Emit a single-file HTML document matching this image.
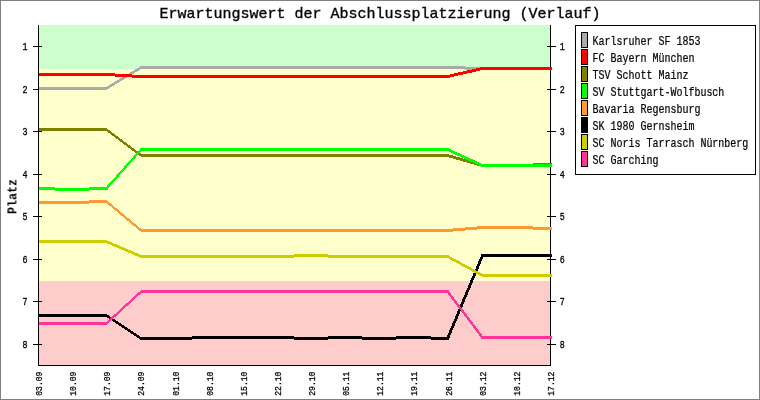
<!DOCTYPE html>
<html lang="de"><head><meta charset="utf-8"><title>Erwartungswert der Abschlussplatzierung (Verlauf)</title>
<style>html,body{margin:0;padding:0;background:#fff}svg{display:block}text{font-family:"Liberation Mono",monospace;fill:#000}.t{font-size:15px;stroke:#000;stroke-width:0.35px}.l{font-size:10px;stroke:#000;stroke-width:0.2px}.a,.b{font-size:8.33px;stroke:#000;stroke-width:0.25px}.b{font-size:8.1px}.p{font-size:11.67px;font-weight:bold}</style></head><body>
<svg width="760" height="400" viewBox="0 0 760 400">
<rect x="0" y="0" width="760" height="400" fill="#fff"/>
<rect x="0.5" y="0.5" width="759" height="399" fill="none" stroke="#808080" shape-rendering="crispEdges"/>
<g shape-rendering="crispEdges">
<rect x="39" y="25" width="511" height="44" fill="#ccffcc"/>
<rect x="39" y="69" width="511" height="212" fill="#ffffcc"/>
<rect x="39" y="281" width="511" height="84" fill="#ffcccc"/>
</g>
<g stroke="#000" stroke-width="1" shape-rendering="crispEdges">
<line x1="38.5" y1="25" x2="38.5" y2="366"/>
<line x1="550.5" y1="25" x2="550.5" y2="366"/>
<line x1="38" y1="365.5" x2="551" y2="365.5"/>
<line x1="33" y1="46.5" x2="42" y2="46.5"/>
<line x1="547" y1="46.5" x2="556" y2="46.5"/>
<line x1="33" y1="89.5" x2="42" y2="89.5"/>
<line x1="547" y1="89.5" x2="556" y2="89.5"/>
<line x1="33" y1="131.5" x2="42" y2="131.5"/>
<line x1="547" y1="131.5" x2="556" y2="131.5"/>
<line x1="33" y1="174.5" x2="42" y2="174.5"/>
<line x1="547" y1="174.5" x2="556" y2="174.5"/>
<line x1="33" y1="216.5" x2="42" y2="216.5"/>
<line x1="547" y1="216.5" x2="556" y2="216.5"/>
<line x1="33" y1="259.5" x2="42" y2="259.5"/>
<line x1="547" y1="259.5" x2="556" y2="259.5"/>
<line x1="33" y1="301.5" x2="42" y2="301.5"/>
<line x1="547" y1="301.5" x2="556" y2="301.5"/>
<line x1="33" y1="344.5" x2="42" y2="344.5"/>
<line x1="547" y1="344.5" x2="556" y2="344.5"/>
</g>
<clipPath id="cp"><rect x="39" y="20" width="513" height="350"/></clipPath>
<g clip-path="url(#cp)" stroke="none" shape-rendering="crispEdges">
<path d="M38.0,87.0 72.1,87.0 72.1,90.0 38.0,90.0ZM72.1,87.0 106.3,87.0 106.3,90.0 72.1,90.0ZM106.3,87.0 141.2,66.0 141.2,69.0 106.3,90.0ZM141.2,66.0 174.5,66.0 174.5,69.0 141.2,69.0ZM174.5,66.0 208.7,66.0 208.7,69.0 174.5,69.0ZM208.7,66.0 242.8,66.0 242.8,69.0 208.7,69.0ZM242.8,66.0 276.9,66.0 276.9,69.0 242.8,69.0ZM276.9,66.0 311.1,66.0 311.1,69.0 276.9,69.0ZM311.1,66.0 345.2,66.0 345.2,69.0 311.1,69.0ZM345.2,66.0 379.3,66.0 379.3,69.0 345.2,69.0ZM379.3,66.0 413.5,66.0 413.5,69.0 379.3,69.0ZM413.5,66.0 447.6,66.0 447.6,69.0 413.5,69.0ZM447.6,66.0 482.5,67.0 482.5,70.0 447.6,69.0ZM482.5,67.0 515.9,67.0 515.9,70.0 482.5,70.0ZM515.9,67.0 550.0,67.0 550.0,70.0 515.9,70.0ZM550.0,67.0 552.0,67.0 552.0,70.0 550.0,70.0Z" fill="#aaaaaa"/>
<path d="M38.0,73.0 72.1,73.0 72.1,76.0 38.0,76.0ZM72.1,73.0 106.3,73.0 106.3,76.0 72.1,76.0ZM106.3,73.0 141.2,75.0 141.2,78.0 106.3,76.0ZM141.2,75.0 174.5,75.0 174.5,78.0 141.2,78.0ZM174.5,75.0 208.7,75.0 208.7,78.0 174.5,78.0ZM208.7,75.0 242.8,75.0 242.8,78.0 208.7,78.0ZM242.8,75.0 276.9,75.0 276.9,78.0 242.8,78.0ZM276.9,75.0 311.1,75.0 311.1,78.0 276.9,78.0ZM311.1,75.0 345.2,75.0 345.2,78.0 311.1,78.0ZM345.2,75.0 379.3,75.0 379.3,78.0 345.2,78.0ZM379.3,75.0 413.5,75.0 413.5,78.0 379.3,78.0ZM413.5,75.0 447.6,75.0 447.6,78.0 413.5,78.0ZM447.6,75.0 482.5,67.0 482.5,70.0 447.6,78.0ZM482.5,67.0 515.9,67.0 515.9,70.0 482.5,70.0ZM515.9,67.0 550.0,67.0 550.0,70.0 515.9,70.0ZM550.0,67.0 552.0,67.0 552.0,70.0 550.0,70.0Z" fill="#ff0000"/>
<path d="M38.0,128.0 72.1,128.0 72.1,131.0 38.0,131.0ZM72.1,128.0 106.3,128.0 106.3,131.0 72.1,131.0ZM106.3,128.0 141.2,154.0 141.2,157.0 106.3,131.0ZM141.2,154.0 174.5,154.0 174.5,157.0 141.2,157.0ZM174.5,154.0 208.7,154.0 208.7,157.0 174.5,157.0ZM208.7,154.0 242.8,154.0 242.8,157.0 208.7,157.0ZM242.8,154.0 276.9,154.0 276.9,157.0 242.8,157.0ZM276.9,154.0 311.1,154.0 311.1,157.0 276.9,157.0ZM311.1,154.0 345.2,154.0 345.2,157.0 311.1,157.0ZM345.2,154.0 379.3,154.0 379.3,157.0 345.2,157.0ZM379.3,154.0 413.5,154.0 413.5,157.0 379.3,157.0ZM413.5,154.0 447.6,154.0 447.6,157.0 413.5,157.0ZM447.6,154.0 482.5,164.0 482.5,167.0 447.6,157.0ZM482.5,164.0 515.9,164.0 515.9,167.0 482.5,167.0ZM515.9,164.0 550.0,163.0 550.0,166.0 515.9,167.0ZM550.0,163.0 552.0,163.0 552.0,166.0 550.0,166.0Z" fill="#808000"/>
<path d="M38.0,187.0 72.1,188.0 72.1,191.0 38.0,190.0ZM72.1,188.0 106.3,187.0 106.3,190.0 72.1,191.0ZM104.8,188.5 139.7,149.5 142.7,149.5 107.8,188.5ZM141.2,148.0 174.5,148.0 174.5,151.0 141.2,151.0ZM174.5,148.0 208.7,148.0 208.7,151.0 174.5,151.0ZM208.7,148.0 242.8,148.0 242.8,151.0 208.7,151.0ZM242.8,148.0 276.9,148.0 276.9,151.0 242.8,151.0ZM276.9,148.0 311.1,148.0 311.1,151.0 276.9,151.0ZM311.1,148.0 345.2,148.0 345.2,151.0 311.1,151.0ZM345.2,148.0 379.3,148.0 379.3,151.0 345.2,151.0ZM379.3,148.0 413.5,148.0 413.5,151.0 379.3,151.0ZM413.5,148.0 447.6,148.0 447.6,151.0 413.5,151.0ZM447.6,148.0 482.5,164.0 482.5,167.0 447.6,151.0ZM482.5,164.0 515.9,164.0 515.9,167.0 482.5,167.0ZM515.9,164.0 550.0,164.0 550.0,167.0 515.9,167.0ZM550.0,164.0 552.0,164.0 552.0,167.0 550.0,167.0ZM104.8,187.0h3v3h-3ZM139.7,148.0h3v3h-3Z" fill="#00ff00"/>
<path d="M38.0,201.0 72.1,201.0 72.1,204.0 38.0,204.0ZM72.1,201.0 106.3,200.0 106.3,203.0 72.1,204.0ZM106.3,200.0 141.2,229.0 141.2,232.0 106.3,203.0ZM141.2,229.0 174.5,229.0 174.5,232.0 141.2,232.0ZM174.5,229.0 208.7,229.0 208.7,232.0 174.5,232.0ZM208.7,229.0 242.8,229.0 242.8,232.0 208.7,232.0ZM242.8,229.0 276.9,229.0 276.9,232.0 242.8,232.0ZM276.9,229.0 311.1,229.0 311.1,232.0 276.9,232.0ZM311.1,229.0 345.2,229.0 345.2,232.0 311.1,232.0ZM345.2,229.0 379.3,229.0 379.3,232.0 345.2,232.0ZM379.3,229.0 413.5,229.0 413.5,232.0 379.3,232.0ZM413.5,229.0 447.6,229.0 447.6,232.0 413.5,232.0ZM447.6,229.0 482.5,226.0 482.5,229.0 447.6,232.0ZM482.5,226.0 515.9,226.0 515.9,229.0 482.5,229.0ZM515.9,226.0 550.0,227.0 550.0,230.0 515.9,229.0ZM550.0,227.0 552.0,227.0 552.0,230.0 550.0,230.0Z" fill="#ff9933"/>
<path d="M38.0,314.0 72.1,314.0 72.1,317.0 38.0,317.0ZM72.1,314.0 106.3,314.0 106.3,317.0 72.1,317.0ZM106.3,314.0 141.2,337.0 141.2,340.0 106.3,317.0ZM141.2,337.0 174.5,337.0 174.5,340.0 141.2,340.0ZM174.5,337.0 208.7,336.0 208.7,339.0 174.5,340.0ZM208.7,336.0 242.8,336.0 242.8,339.0 208.7,339.0ZM242.8,336.0 276.9,336.0 276.9,339.0 242.8,339.0ZM276.9,336.0 311.1,337.0 311.1,340.0 276.9,339.0ZM311.1,337.0 345.2,336.0 345.2,339.0 311.1,340.0ZM345.2,336.0 379.3,337.0 379.3,340.0 345.2,339.0ZM379.3,337.0 413.5,336.0 413.5,339.0 379.3,340.0ZM413.5,336.0 447.6,337.0 447.6,340.0 413.5,339.0ZM446.1,338.5 481.0,255.5 484.0,255.5 449.1,338.5ZM482.5,254.0 515.9,254.0 515.9,257.0 482.5,257.0ZM515.9,254.0 550.0,254.0 550.0,257.0 515.9,257.0ZM550.0,254.0 552.0,254.0 552.0,257.0 550.0,257.0ZM446.1,337.0h3v3h-3ZM481.0,254.0h3v3h-3Z" fill="#000000"/>
<path d="M38.0,240.0 72.1,240.0 72.1,243.0 38.0,243.0ZM72.1,240.0 106.3,240.0 106.3,243.0 72.1,243.0ZM106.3,240.0 141.2,255.0 141.2,258.0 106.3,243.0ZM141.2,255.0 174.5,255.0 174.5,258.0 141.2,258.0ZM174.5,255.0 208.7,255.0 208.7,258.0 174.5,258.0ZM208.7,255.0 242.8,255.0 242.8,258.0 208.7,258.0ZM242.8,255.0 276.9,255.0 276.9,258.0 242.8,258.0ZM276.9,255.0 311.1,254.0 311.1,257.0 276.9,258.0ZM311.1,254.0 345.2,255.0 345.2,258.0 311.1,257.0ZM345.2,255.0 379.3,255.0 379.3,258.0 345.2,258.0ZM379.3,255.0 413.5,255.0 413.5,258.0 379.3,258.0ZM413.5,255.0 447.6,255.0 447.6,258.0 413.5,258.0ZM447.6,255.0 482.5,274.0 482.5,277.0 447.6,258.0ZM482.5,274.0 515.9,274.0 515.9,277.0 482.5,277.0ZM515.9,274.0 550.0,274.0 550.0,277.0 515.9,277.0ZM550.0,274.0 552.0,274.0 552.0,277.0 550.0,277.0Z" fill="#cccc00"/>
<path d="M38.0,322.0 72.1,322.0 72.1,325.0 38.0,325.0ZM72.1,322.0 106.3,322.0 106.3,325.0 72.1,325.0ZM106.3,322.0 141.2,290.0 141.2,293.0 106.3,325.0ZM141.2,290.0 174.5,290.0 174.5,293.0 141.2,293.0ZM174.5,290.0 208.7,290.0 208.7,293.0 174.5,293.0ZM208.7,290.0 242.8,290.0 242.8,293.0 208.7,293.0ZM242.8,290.0 276.9,290.0 276.9,293.0 242.8,293.0ZM276.9,290.0 311.1,290.0 311.1,293.0 276.9,293.0ZM311.1,290.0 345.2,290.0 345.2,293.0 311.1,293.0ZM345.2,290.0 379.3,290.0 379.3,293.0 345.2,293.0ZM379.3,290.0 413.5,290.0 413.5,293.0 379.3,293.0ZM413.5,290.0 447.6,290.0 447.6,293.0 413.5,293.0ZM449.1,291.5 484.0,337.5 481.0,337.5 446.1,291.5ZM482.5,336.0 515.9,336.0 515.9,339.0 482.5,339.0ZM515.9,336.0 550.0,336.0 550.0,339.0 515.9,339.0ZM550.0,336.0 552.0,336.0 552.0,339.0 550.0,339.0ZM446.1,290.0h3v3h-3ZM481.0,336.0h3v3h-3Z" fill="#ff3399"/>
</g>
<rect x="575.5" y="25.5" width="180" height="149" fill="#fff" stroke="#000" shape-rendering="crispEdges"/>
<rect x="581.5" y="32.5" width="6" height="15" fill="#aaaaaa" stroke="#000" shape-rendering="crispEdges"/>
<rect x="581.5" y="49.5" width="6" height="15" fill="#ff0000" stroke="#000" shape-rendering="crispEdges"/>
<rect x="581.5" y="66.5" width="6" height="15" fill="#808000" stroke="#000" shape-rendering="crispEdges"/>
<rect x="581.5" y="83.5" width="6" height="15" fill="#00ff00" stroke="#000" shape-rendering="crispEdges"/>
<rect x="581.5" y="100.5" width="6" height="15" fill="#ff9933" stroke="#000" shape-rendering="crispEdges"/>
<rect x="581.5" y="117.5" width="6" height="15" fill="#000000" stroke="#000" shape-rendering="crispEdges"/>
<rect x="581.5" y="134.5" width="6" height="15" fill="#cccc00" stroke="#000" shape-rendering="crispEdges"/>
<rect x="581.5" y="151.5" width="6" height="15" fill="#ff3399" stroke="#000" shape-rendering="crispEdges"/>
<g opacity="0.99">
<text class="a" transform="translate(22.5,49.6) scale(1,1.27)">1</text>
<text class="a" transform="translate(559.8,49.6) scale(1,1.27)">1</text>
<text class="a" transform="translate(22.5,92.6) scale(1,1.27)">2</text>
<text class="a" transform="translate(559.8,92.6) scale(1,1.27)">2</text>
<text class="a" transform="translate(22.5,134.6) scale(1,1.27)">3</text>
<text class="a" transform="translate(559.8,134.6) scale(1,1.27)">3</text>
<text class="a" transform="translate(22.5,177.6) scale(1,1.27)">4</text>
<text class="a" transform="translate(559.8,177.6) scale(1,1.27)">4</text>
<text class="a" transform="translate(22.5,219.6) scale(1,1.27)">5</text>
<text class="a" transform="translate(559.8,219.6) scale(1,1.27)">5</text>
<text class="a" transform="translate(22.5,262.6) scale(1,1.27)">6</text>
<text class="a" transform="translate(559.8,262.6) scale(1,1.27)">6</text>
<text class="a" transform="translate(22.5,304.6) scale(1,1.27)">7</text>
<text class="a" transform="translate(559.8,304.6) scale(1,1.27)">7</text>
<text class="a" transform="translate(22.5,347.6) scale(1,1.27)">8</text>
<text class="a" transform="translate(559.8,347.6) scale(1,1.27)">8</text>
<text class="b" transform="translate(41.8,395.8) rotate(-90) scale(1,1.2)">03.09</text>
<text class="b" transform="translate(75.8,395.8) rotate(-90) scale(1,1.2)">10.09</text>
<text class="b" transform="translate(109.8,395.8) rotate(-90) scale(1,1.2)">17.09</text>
<text class="b" transform="translate(143.8,395.8) rotate(-90) scale(1,1.2)">24.09</text>
<text class="b" transform="translate(178.8,395.8) rotate(-90) scale(1,1.2)">01.10</text>
<text class="b" transform="translate(212.8,395.8) rotate(-90) scale(1,1.2)">08.10</text>
<text class="b" transform="translate(246.8,395.8) rotate(-90) scale(1,1.2)">15.10</text>
<text class="b" transform="translate(280.8,395.8) rotate(-90) scale(1,1.2)">22.10</text>
<text class="b" transform="translate(314.8,395.8) rotate(-90) scale(1,1.2)">29.10</text>
<text class="b" transform="translate(348.8,395.8) rotate(-90) scale(1,1.2)">05.11</text>
<text class="b" transform="translate(382.8,395.8) rotate(-90) scale(1,1.2)">12.11</text>
<text class="b" transform="translate(416.8,395.8) rotate(-90) scale(1,1.2)">19.11</text>
<text class="b" transform="translate(451.8,395.8) rotate(-90) scale(1,1.2)">26.11</text>
<text class="b" transform="translate(485.8,395.8) rotate(-90) scale(1,1.2)">03.12</text>
<text class="b" transform="translate(519.8,395.8) rotate(-90) scale(1,1.2)">10.12</text>
<text class="b" transform="translate(553.8,395.8) rotate(-90) scale(1,1.2)">17.12</text>
<text class="t" x="159.5" y="18">Erwartungswert der Abschlussplatzierung (Verlauf)</text>
<text class="p" transform="translate(16.3,214) rotate(-90) scale(1,1.17)">Platz</text>
<text class="l" transform="translate(592.5,45) scale(1,1.22)">Karlsruher SF 1853</text>
<text class="l" transform="translate(592.5,62) scale(1,1.22)">FC Bayern München</text>
<text class="l" transform="translate(592.5,79) scale(1,1.22)">TSV Schott Mainz</text>
<text class="l" transform="translate(592.5,96) scale(1,1.22)">SV Stuttgart-Wolfbusch</text>
<text class="l" transform="translate(592.5,113) scale(1,1.22)">Bavaria Regensburg</text>
<text class="l" transform="translate(592.5,130) scale(1,1.22)">SK 1980 Gernsheim</text>
<text class="l" transform="translate(592.5,147) scale(1,1.22)">SC Noris Tarrasch Nürnberg</text>
<text class="l" transform="translate(592.5,164) scale(1,1.22)">SC Garching</text>
</g>
</svg></body></html>
